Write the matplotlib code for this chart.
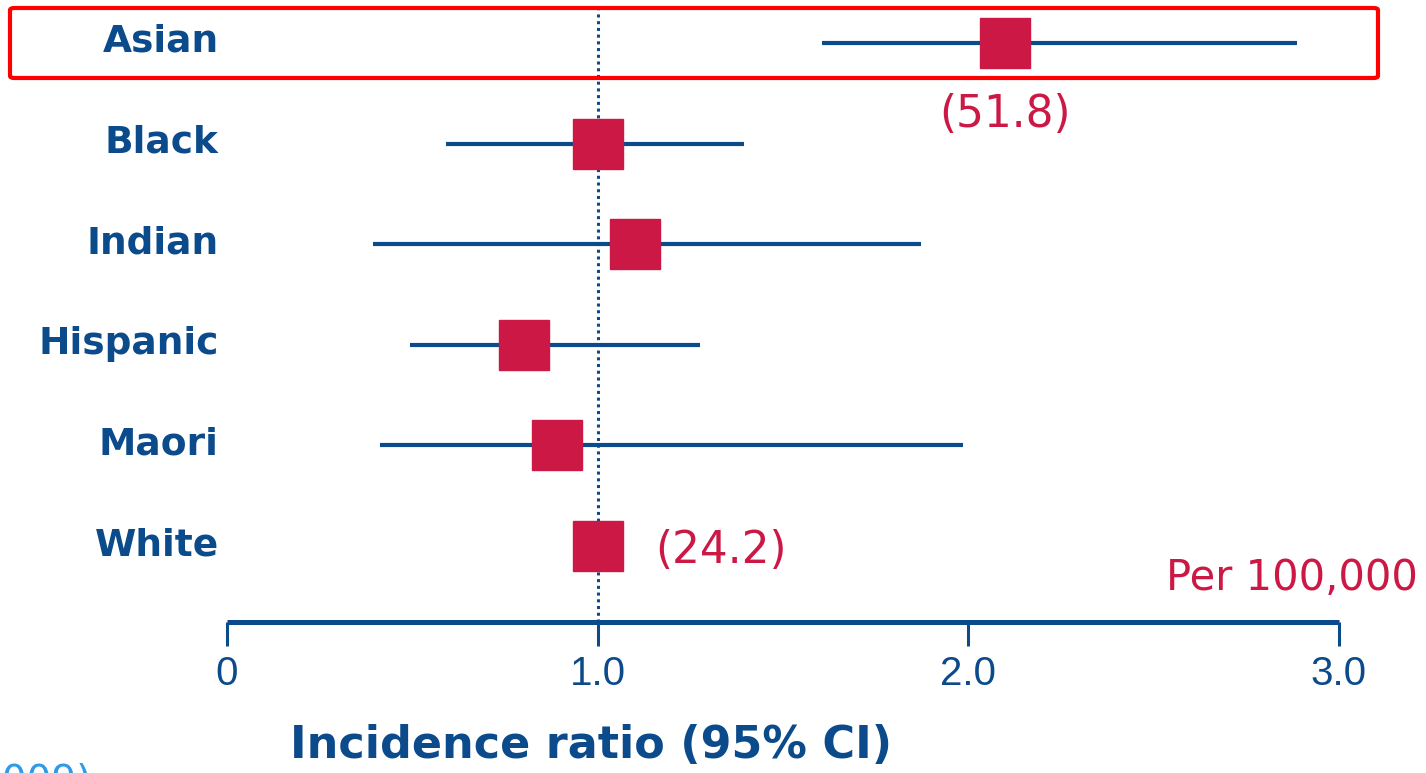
import matplotlib
matplotlib.use('Agg')
from matplotlib import pyplot as plt
from matplotlib.patches import FancyBboxPatch
from matplotlib.transforms import ScaledTranslation

# incidence ratios with 95% CI, White as reference group
groups = ['Asian', 'Black', 'Indian', 'Hispanic', 'Maori', 'White']
ratio = [2.10, 1.00, 1.10, 0.80, 0.89, 1.00]
ci_low = [1.605, 0.59, 0.394, 0.494, 0.413, None]
ci_high = [2.886, 1.395, 1.872, 1.276, 1.985, None]
rates = {'Asian': '(51.8)', 'White': '(24.2)'}
xticks = [0, 1, 2, 3]
xtick_labels = ['0', '1.0', '2.0', '3.0']

navy = '#0B4A8B'
crimson = '#CC1845'

W, H = 1426, 773
fig = plt.figure(figsize=(W / 100, H / 100), dpi=100)
ax = fig.add_axes([227 / W, (H - 622) / H, (1339 - 227) / W, 622 / H])
ax.set_xlim(0, 3)
ax.set_ylim(5.755, -0.427)

rows = list(range(len(groups)))

# reference line at ratio 1
ax.axvline(1, ymin=0, ymax=(5.755 - (-0.33)) / (5.755 + 0.427), color=navy,
           linestyle=(0, (1, 1.2)), linewidth=2.2, zorder=1)

for i, g in enumerate(groups):
    if ci_low[i] is not None:
        ax.plot([ci_low[i], ci_high[i]], [i, i], color=navy, linewidth=3, zorder=2,
                solid_capstyle='butt')
ax.plot(ratio, rows, 's', color=crimson, markersize=36, zorder=3, linestyle='none')

# rates per 100,000 next to selected groups
ax.text(ratio[0], 0.71, rates['Asian'], color=crimson, fontsize=31.5,
        ha='center', va='center')
ax.text(ratio[5] + 0.155, 5.04, rates['White'], color=crimson, fontsize=31.5,
        ha='left', va='center')
fig.text(1418 / W, (H - 578) / H, 'Per 100,000', color=crimson, fontsize=30,
         ha='right', va='center')

ax.set_yticks(rows)
ax.set_yticklabels(groups, fontsize=27, fontweight='bold', color=navy)
ax.tick_params(axis='y', length=0, pad=6)
shift_up = ScaledTranslation(0, 5 / 100, fig.dpi_scale_trans)
for lab in ax.get_yticklabels():
    lab.set_transform(lab.get_transform() + shift_up)

ax.set_xticks(xticks)
ax.set_xticklabels(xtick_labels, fontsize=29, color=navy, family='Liberation Sans')
ax.tick_params(axis='x', direction='out', length=17, width=2.2, color=navy, pad=7)

for s in ['top', 'right', 'left']:
    ax.spines[s].set_visible(False)
ax.spines['bottom'].set_color(navy)
ax.spines['bottom'].set_linewidth(3.6)
ax.spines['bottom'].set_capstyle('butt')

fig.text(591 / W, (H - 746) / H, 'Incidence ratio (95% CI)', fontsize=32,
         fontweight='bold', color=navy, ha='center', va='center')

# highlight box around the Asian row
box = FancyBboxPatch((10 / W, (H - 78) / H), (1378 - 10) / W, 70 / H,
                     boxstyle='round,pad=0,rounding_size=0.003',
                     transform=fig.transFigure, fill=False, edgecolor='#FF0000',
                     linewidth=3, zorder=5)
fig.patches.append(box)

# source note running off the bottom edge
fig.text(92 / W, (H - 763) / H, '(2009)', fontsize=28, color='#2E9BEA',
         ha='right', va='top')

fig.savefig('out.png', dpi=100)
